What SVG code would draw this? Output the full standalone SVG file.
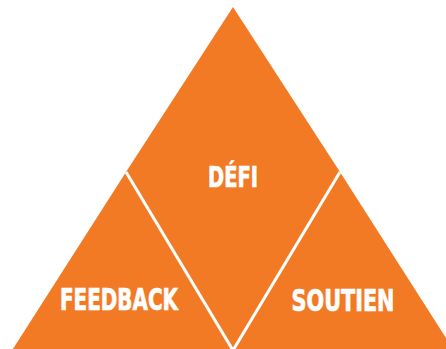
<svg xmlns="http://www.w3.org/2000/svg" width="446" height="349" viewBox="0 0 446 349">
  <style>
    .piece { fill: #F37A25; }
    .sep { stroke: #FFFFFF; stroke-width: 3; fill: none; stroke-linecap: butt; }
    .label { fill: #FFFFFF; stroke: #FFFFFF; stroke-width: 0.7; font-family: "DejaVu Sans Condensed", "Liberation Sans Narrow", "Liberation Sans", sans-serif; font-weight: bold; text-anchor: middle; }
  </style>
  <rect width="446" height="349" fill="#FFFFFF"/>

  <!-- central rhombus -->
  <g id="defi">
    <polygon class="piece" points="233,7 126,172 233,352 340,172"/>
    <text class="label" x="233" y="187" font-size="28" textLength="50" lengthAdjust="spacingAndGlyphs">DÉFI</text>
  </g>

  <!-- lower left triangle -->
  <g id="feedback">
    <polygon class="piece" points="126,172 11,352 233,352"/>
    <text class="label" x="119" y="310" font-size="30" textLength="118" lengthAdjust="spacingAndGlyphs">FEEDBACK</text>
  </g>

  <!-- lower right triangle -->
  <g id="soutien">
    <polygon class="piece" points="340,172 233,352 455,352"/>
    <text class="label" x="343" y="311" font-size="30" textLength="103" lengthAdjust="spacingAndGlyphs">SOUTIEN</text>
  </g>

  <!-- white dividing lines -->
  <g id="connectors">
    <line class="sep" x1="126" y1="172" x2="234" y2="352"/>
    <line class="sep" x1="340" y1="172" x2="232" y2="352"/>
  </g>
</svg>
